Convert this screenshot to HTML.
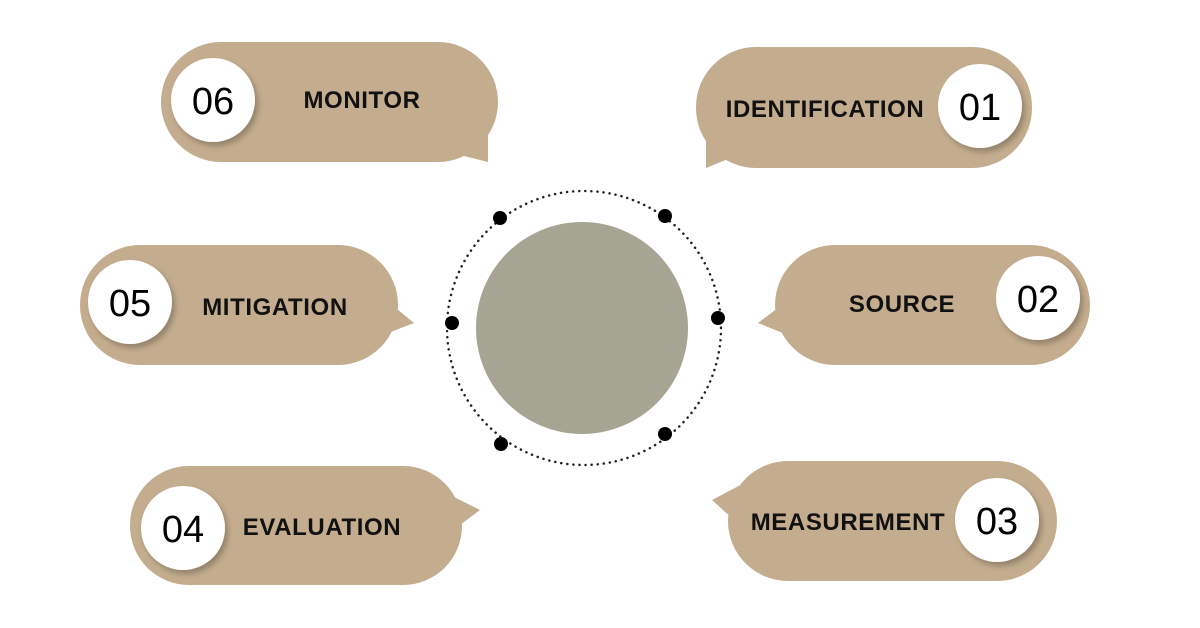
<!DOCTYPE html>
<html><head><style>body{margin:0;background:#fff}svg{display:block}</style></head><body>
<svg width="1200" height="628" viewBox="0 0 1200 628" xmlns="http://www.w3.org/2000/svg" font-family="Liberation Sans, sans-serif">
<defs><filter id="s" x="-30%" y="-30%" width="160%" height="160%"><feDropShadow dx="3" dy="4" stdDeviation="3" flood-color="#000" flood-opacity="0.25"/></filter></defs>
<g fill="#c4ad8e">
<rect x="161" y="42" width="337" height="120" rx="60"/><path d="M440 150 L488 162 L488 120 Z"/>
<rect x="696" y="47" width="336" height="121" rx="60"/><path d="M750 150 L706 168 L706 120 Z"/>
<rect x="80" y="245" width="318" height="120" rx="60"/><path d="M380 295 L414 323 L370 340 Z"/>
<rect x="775" y="245" width="315" height="120" rx="60"/><path d="M795 295 L758 323 L800 340 Z"/>
<rect x="130" y="466" width="332" height="119" rx="59"/><path d="M440 490 L480 510 L440 540 Z"/>
<rect x="728" y="461" width="329" height="120" rx="60"/><path d="M750 480 L712 500 L745 530 Z"/>
</g>
<g fill="#fff" filter="url(#s)">
<circle cx="213" cy="100" r="42"/><circle cx="980" cy="106" r="42"/>
<circle cx="130" cy="302" r="42"/><circle cx="1038" cy="298" r="42"/>
<circle cx="183" cy="528" r="42"/><circle cx="997" cy="520" r="42"/>
</g>
<g font-size="38" text-anchor="middle" fill="#000">
<text x="213" y="114">06</text><text x="980" y="120">01</text>
<text x="130" y="316">05</text><text x="1038" y="312">02</text>
<text x="183" y="542">04</text><text x="997" y="534">03</text>
</g>
<g font-size="24" font-weight="bold" fill="#111" text-anchor="middle" letter-spacing="0.6">
<text x="362" y="108">MONITOR</text>
<text x="825" y="117">IDENTIFICATION</text>
<text x="275" y="315">MITIGATION</text>
<text x="902" y="312">SOURCE</text>
<text x="322" y="535">EVALUATION</text>
<text x="848" y="530">MEASUREMENT</text>
</g>
<circle cx="584" cy="328" r="137" fill="none" stroke="#222" stroke-width="2.5" stroke-dasharray="0.1 6" stroke-linecap="round"/>
<circle cx="582" cy="328" r="106" fill="#a6a593"/>
<g fill="#000">
<circle cx="500" cy="218" r="7"/><circle cx="665" cy="216" r="7"/>
<circle cx="452" cy="323" r="7"/><circle cx="718" cy="318" r="7"/>
<circle cx="501" cy="444" r="7"/><circle cx="665" cy="434" r="7"/>
</g>
</svg>
</body></html>
